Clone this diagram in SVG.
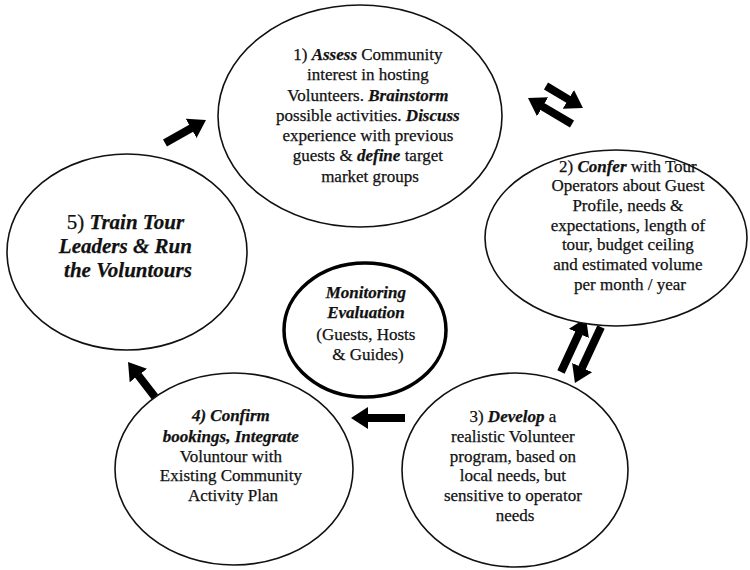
<svg xmlns="http://www.w3.org/2000/svg" width="750" height="570" viewBox="0 0 750 570">
<defs>
<style>
.bg{fill:#fff}
.node{fill:#fff;stroke:#111;stroke-width:1.6}
.mon{fill:#fff;stroke:#000;stroke-width:3.5}
.t{font-family:"Liberation Serif","Times New Roman",serif;font-size:17px;fill:#111;stroke:#111;stroke-width:0.25;text-anchor:middle}
.big{font-size:21px}
.bi{font-weight:bold;font-style:italic}
.arr{stroke:#000;stroke-width:8;fill:none;marker-end:url(#head)}
</style>
<marker id="head" markerUnits="userSpaceOnUse" markerWidth="18" markerHeight="24" viewBox="0 -12 18 24" refX="0.5" refY="0" orient="auto">
<path d="M0,-11 L17,0 L0,11 z" fill="#000"/>
</marker>
</defs>
<rect class="bg" x="0" y="0" width="750" height="570"/>

<g id="connectors">
<line class="arr" x1="165" y1="143" x2="191.6" y2="128.1"/>
<line class="arr" x1="546" y1="86" x2="568.8" y2="99.6"/>
<line class="arr" x1="572" y1="124" x2="542.2" y2="106.4"/>
<line class="arr" x1="561" y1="372" x2="579.1" y2="333"/>
<line class="arr" x1="601" y1="327" x2="581.9" y2="368"/>
<line class="arr" x1="405" y1="418" x2="367.5" y2="418"/>
<line class="arr" x1="155" y1="397" x2="138.1" y2="375.1"/>
</g>

<g id="node1">
<ellipse class="node" cx="360" cy="116" rx="142" ry="111"/>
<text class="t">
<tspan x="370" y="60">1) <tspan class="bi">Assess</tspan> Community</tspan>
<tspan x="370" y="80">interest in hosting</tspan>
<tspan x="370" y="101">Volunteers. <tspan class="bi">Brainstorm</tspan></tspan>
<tspan x="370" y="121">possible activities. <tspan class="bi">Discuss</tspan></tspan>
<tspan x="370" y="141">experience with previous</tspan>
<tspan x="370" y="161">guests &amp; <tspan class="bi">define</tspan> target</tspan>
<tspan x="370" y="182">market groups</tspan>
</text>
</g>

<g id="node2">
<ellipse class="node" cx="616" cy="238" rx="131" ry="88"/>
<text class="t">
<tspan x="630" y="172">2) <tspan class="bi">Confer</tspan> with Tour</tspan>
<tspan x="630" y="191">Operators about Guest</tspan>
<tspan x="630" y="211">Profile, needs &amp;</tspan>
<tspan x="630" y="231">expectations, length of</tspan>
<tspan x="630" y="250">tour, budget ceiling</tspan>
<tspan x="630" y="270">and estimated volume</tspan>
<tspan x="630" y="290">per month / year</tspan>
</text>
</g>

<g id="node3">
<ellipse class="node" cx="515" cy="470" rx="113" ry="97"/>
<text class="t">
<tspan x="515" y="422">3) <tspan class="bi">Develop</tspan> a</tspan>
<tspan x="515" y="442">realistic Volunteer</tspan>
<tspan x="515" y="462">program, based on</tspan>
<tspan x="515" y="481">local needs, but</tspan>
<tspan x="515" y="501">sensitive to operator</tspan>
<tspan x="515" y="521">needs</tspan>
</text>
</g>

<g id="node4">
<ellipse class="node" cx="234" cy="469" rx="119" ry="96"/>
<text class="t">
<tspan x="233" y="421" class="bi">4) Confirm</tspan>
<tspan x="233" y="442" class="bi">bookings, Integrate</tspan>
<tspan x="233" y="462">Voluntour with</tspan>
<tspan x="233" y="481">Existing Community</tspan>
<tspan x="233" y="501">Activity Plan</tspan>
</text>
</g>

<g id="node5">
<ellipse class="node" cx="127" cy="252" rx="120" ry="98"/>
<text class="t big">
<tspan x="128" y="229">5) <tspan class="bi">Train Tour</tspan></tspan>
<tspan x="128" y="253" class="bi">Leaders &amp; Run</tspan>
<tspan x="128" y="277" class="bi">the Voluntours</tspan>
</text>
</g>

<g id="monitoring">
<ellipse class="mon" cx="365" cy="330" rx="81" ry="67"/>
<text class="t">
<tspan x="368" y="298" class="bi">Monitoring</tspan>
<tspan x="368" y="318" class="bi">Evaluation</tspan>
<tspan x="368" y="340">(Guests, Hosts</tspan>
<tspan x="368" y="360">&amp; Guides)</tspan>
</text>
</g>
</svg>
